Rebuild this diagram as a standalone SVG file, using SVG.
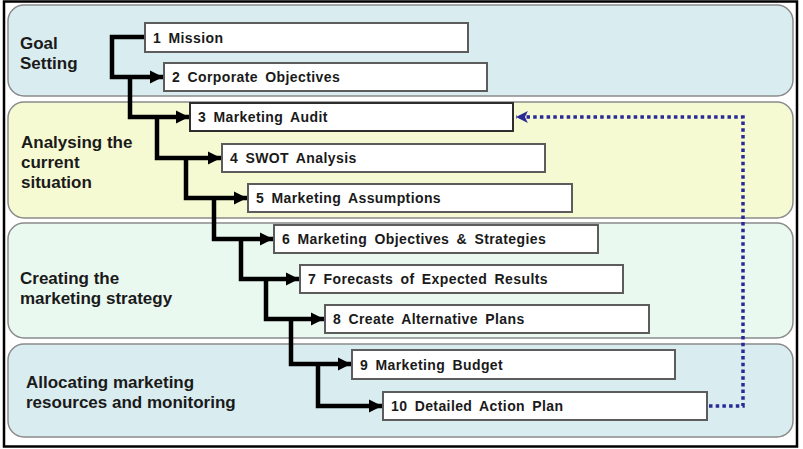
<svg xmlns="http://www.w3.org/2000/svg" width="803" height="449" viewBox="0 0 803 449">
  <style>
    .band { stroke: #8a8a8a; stroke-width: 1.5; }
    .blue { fill: #d9ecef; }
    .yellow { fill: #f6fad2; }
    .green { fill: #eaf9f0; }
    .label { font-family: "Liberation Sans", Arial, sans-serif; font-weight: bold; font-size: 17px; fill: #1a1a1a; }
    .box { fill: #ffffff; stroke: #5c5c5c; stroke-width: 2; }
    .btext { font-family: "Liberation Sans", Arial, sans-serif; font-weight: bold; font-size: 14px; letter-spacing: 0.4px; word-spacing: 3px; fill: #1a1a1a; }
    .flow { fill: none; stroke: #000000; stroke-width: 4.5; stroke-linejoin: miter; }
    .loop { fill: none; stroke: #2a2a96; stroke-width: 3.5; stroke-dasharray: 3.5 3.2; }
  </style>
  <defs>
    <marker id="arrow" viewBox="0 0 10 10" refX="10" refY="5" markerWidth="3" markerHeight="3" orient="auto" markerUnits="strokeWidth">
      <path d="M0,0 L10,5 L0,10 Z" fill="#000000"/>
    </marker>
    <marker id="arrowBlue" viewBox="0 0 10 10" refX="10" refY="5" markerWidth="3.6" markerHeight="3.4" orient="auto" markerUnits="strokeWidth">
      <path d="M0,0 L10,5 L0,10 L2.5,5 Z" fill="#2a2a96"/>
    </marker>
  </defs>

  <!-- outer frame -->
  <rect x="4" y="1.5" width="793" height="445" fill="#ffffff" stroke="#000000" stroke-width="2.5"/>

  <!-- phase bands -->
  <g id="band-goal">
    <rect class="band blue" x="8" y="5" width="785" height="91" rx="16"/>
    <text class="label" x="20" y="49">Goal</text>
    <text class="label" x="20" y="69">Setting</text>
  </g>
  <g id="band-analysis">
    <rect class="band yellow" x="8" y="102" width="785" height="116" rx="16"/>
    <text class="label" x="21" y="148">Analysing the</text>
    <text class="label" x="21" y="168">current</text>
    <text class="label" x="21" y="188">situation</text>
  </g>
  <g id="band-strategy">
    <rect class="band green" x="8" y="223" width="785" height="115" rx="16"/>
    <text class="label" x="20" y="284">Creating the</text>
    <text class="label" x="20" y="304">marketing strategy</text>
  </g>
  <g id="band-allocation">
    <rect class="band blue" x="8" y="344" width="785" height="93" rx="16"/>
    <text class="label" x="26" y="388">Allocating marketing</text>
    <text class="label" x="26" y="408">resources and monitoring</text>
  </g>

  <!-- step connectors -->
  <g id="connectors">
    <path class="flow" d="M145,37 H112 V77 H163" marker-end="url(#arrow)"/>
    <path class="flow" d="M130,77 V117 H189" marker-end="url(#arrow)"/>
    <path class="flow" d="M157,117 V158 H221" marker-end="url(#arrow)"/>
    <path class="flow" d="M186,158 V198 H247" marker-end="url(#arrow)"/>
    <path class="flow" d="M214,198 V239 H273" marker-end="url(#arrow)"/>
    <path class="flow" d="M241,239 V279 H299" marker-end="url(#arrow)"/>
    <path class="flow" d="M266,279 V319 H324" marker-end="url(#arrow)"/>
    <path class="flow" d="M291,319 V364 H351" marker-end="url(#arrow)"/>
    <path class="flow" d="M318,364 V406 H382" marker-end="url(#arrow)"/>
    <path class="loop" d="M709,406 H743 V117 H516" marker-end="url(#arrowBlue)"/>
  </g>

  <!-- steps -->
  <g id="step-1">
    <rect class="box" x="145" y="23" width="323" height="29"/>
    <text class="btext" x="153" y="43">1 Mission</text>
  </g>
  <g id="step-2">
    <rect class="box" x="164" y="63" width="323" height="28"/>
    <text class="btext" x="172" y="82">2 Corporate Objectives</text>
  </g>
  <g id="step-3">
    <rect class="box" x="190" y="103" width="323" height="28" style="stroke:#2e2e2e"/>
    <text class="btext" x="198" y="122">3 Marketing Audit</text>
  </g>
  <g id="step-4">
    <rect class="box" x="222" y="144" width="323" height="28"/>
    <text class="btext" x="230" y="163">4 SWOT Analysis</text>
  </g>
  <g id="step-5">
    <rect class="box" x="248" y="184" width="324" height="28"/>
    <text class="btext" x="256" y="203">5 Marketing Assumptions</text>
  </g>
  <g id="step-6">
    <rect class="box" x="274" y="225" width="324" height="28"/>
    <text class="btext" x="282" y="244">6 Marketing Objectives &amp; Strategies</text>
  </g>
  <g id="step-7">
    <rect class="box" x="300" y="265" width="323" height="28"/>
    <text class="btext" x="308" y="284">7 Forecasts of Expected Results</text>
  </g>
  <g id="step-8">
    <rect class="box" x="325" y="305" width="324" height="28"/>
    <text class="btext" x="333" y="324">8 Create Alternative Plans</text>
  </g>
  <g id="step-9">
    <rect class="box" x="352" y="350" width="323" height="29"/>
    <text class="btext" x="360" y="370">9 Marketing Budget</text>
  </g>
  <g id="step-10">
    <rect class="box" x="383" y="392" width="324" height="28"/>
    <text class="btext" x="391" y="411">10 Detailed Action Plan</text>
  </g>
</svg>
